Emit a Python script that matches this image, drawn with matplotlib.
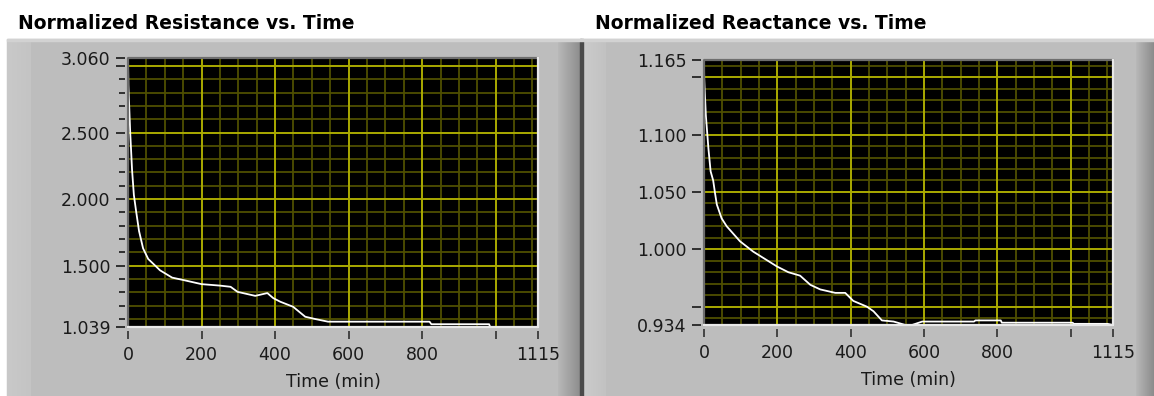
import numpy as np
import matplotlib.pyplot as plt
from matplotlib.patches import Rectangle
from matplotlib.colors import LinearSegmentedColormap

# dados (tempo em minutos)
res_t = [0, 1, 6, 11, 16, 22, 30, 41, 55, 74, 87, 120, 152, 200, 250, 279, 298,
         346, 379, 395, 414, 449, 482, 509, 544, 820, 825, 982, 985, 1115]
res_v = [3.06, 2.86, 2.50, 2.22, 2.03, 1.91, 1.76, 1.63, 1.55, 1.50, 1.465, 1.41,
         1.391, 1.361, 1.35, 1.341, 1.303, 1.273, 1.294, 1.256, 1.229, 1.191,
         1.116, 1.099, 1.079, 1.079, 1.06, 1.06, 1.039, 1.039]

reac_t = [0, 0.5, 5, 12, 18, 25, 30, 35, 48, 62, 98, 134, 199, 230, 262, 290, 317,
          358, 385, 407, 444, 462, 485, 517, 549, 567, 595, 736, 740, 809, 812,
          1005, 1008, 1100, 1115]
reac_v = [1.165, 1.149, 1.117, 1.088, 1.068, 1.060, 1.049, 1.039, 1.027, 1.020,
          1.007, 0.998, 0.985, 0.980, 0.977, 0.969, 0.965, 0.962, 0.962, 0.955,
          0.950, 0.946, 0.938, 0.937, 0.934, 0.934, 0.937, 0.937, 0.938, 0.938,
          0.936, 0.936, 0.935, 0.935, 0.934]

x_ticks = [0, 200, 400, 600, 800, 1000, 1115]
x_labels = ['0', '200', '400', '600', '800', '', '1115']

res_yticks = [1.039, 1.5, 2.0, 2.5, 3.0, 3.06]
res_ylabels = ['1.039', '1.500', '2.000', '2.500', '', '3.060']
reac_yticks = [0.934, 0.95, 1.0, 1.05, 1.1, 1.15, 1.165]
reac_ylabels = ['0.934', '', '1.000', '1.050', '1.100', '', '1.165']

W, H = 1154, 396
fig = plt.figure(figsize=(W / 100, H / 100), dpi=100)
fig.patch.set_facecolor('white')

# fundo em coordenadas de pixel
bg = fig.add_axes([0, 0, 1, 1])
bg.set_xlim(0, W)
bg.set_ylim(H, 0)
bg.axis('off')

def faixa(x0, x1, c0, c1, y0=39, y1=H):
    grad = np.linspace(0, 1, 50)[None, :]
    cm = LinearSegmentedColormap.from_list('g', [c0, c1])
    bg.imshow(grad, extent=[x0, x1, y1, y0], cmap=cm, aspect='auto', zorder=1)

# painel esquerdo
bg.add_patch(Rectangle((7, 39), 574, H - 39, color='#bdbdbd', zorder=0))
faixa(7, 31, '#c9c9c9', '#c4c4c4')
faixa(558, 581, '#b8b8b8', '#8c8c8c')
bg.add_patch(Rectangle((580, 39), 3, H - 39, color='#4a4a4a', zorder=2))
# painel direito
bg.add_patch(Rectangle((583, 39), W - 583, H - 39, color='#bdbdbd', zorder=0))
faixa(583, 606, '#cbcbcb', '#c2c2c2')
faixa(1136, W, '#b8b8b8', '#8c8c8c')
bg.add_patch(Rectangle((7, 39), W - 7, 2, color='#d2d2d2', zorder=3))

bg.text(18, 29, 'Normalized Resistance vs. Time', fontsize=13.5, fontweight='bold',
        va='baseline', ha='left', color='black')
bg.text(595, 29, 'Normalized Reactance vs. Time', fontsize=13.5, fontweight='bold',
        va='baseline', ha='left', color='black')


def grafico(box, t, v, ylim, yticks, ylabels, ymaj, ymin, yminor_ticks):
    x0, y0, x1, y1 = box
    ax = fig.add_axes([x0 / W, 1 - y1 / H, (x1 - x0) / W, (y1 - y0) / H])
    ax.set_facecolor('black')
    ax.set_xlim(0, 1115)
    ax.set_ylim(*ylim)

    # grade
    for g in np.arange(50, 1115, 50):
        if g % 200 != 0:
            ax.axvline(g, color='#4f4f00', lw=1.3, zorder=1)
    for g in ymin:
        ax.axhline(g, color='#4f4f00', lw=1.3, zorder=1)
    for g in [200, 400, 600, 800, 1000]:
        ax.axvline(g, color='#aaaa00', lw=1.4, zorder=2)
    for g in ymaj:
        ax.axhline(g, color='#aaaa00', lw=1.4, zorder=2)

    ax.plot(t, v, color='white', lw=1.3, zorder=3, clip_on=False)

    # moldura
    for s in ax.spines.values():
        s.set_color('none')
    ax.spines['left'].set_position(('outward', 2.2))
    ax.spines['bottom'].set_position(('outward', 3))
    ax.plot([0, 0, 1], [0, 1, 1], transform=ax.transAxes, color='#6e6e6e',
            lw=1.6, clip_on=False, zorder=4)
    ax.plot([0, 1, 1], [0, 0, 1], transform=ax.transAxes, color='#e8e8e8',
            lw=1.6, clip_on=False, zorder=4)

    ax.set_xticks(x_ticks)
    ax.set_xticklabels(x_labels)
    ax.set_yticks(yticks)
    ax.set_yticklabels(ylabels)
    ax.set_yticks(yminor_ticks, minor=True)
    ax.tick_params(axis='x', length=6, width=1.2, color='#303030', pad=5,
                   labelsize=12.5, labelcolor='#1a1a1a')
    ax.tick_params(axis='y', which='major', length=6.5, width=1.4, color='#303030',
                   pad=4, labelsize=12.5, labelcolor='#1a1a1a')
    ax.tick_params(axis='y', which='minor', length=4, width=1.4, color='#303030')
    ax.set_xlabel('Time (min)', fontsize=12.5, color='#1a1a1a', labelpad=6)
    return ax


res_minor = [round(g, 1) for g in np.arange(1.1, 3.0, 0.1) if round(g * 10) % 5 != 0]
grafico((128, 58, 538, 327), res_t, res_v, (1.039, 3.06), res_yticks, res_ylabels,
        [1.5, 2.0, 2.5, 3.0], res_minor, res_minor)

reac_minor = [round(g, 2) for g in np.arange(0.94, 1.165, 0.01) if round(g * 100) % 5 != 0]
grafico((704, 60, 1113, 325), reac_t, reac_v, (0.934, 1.165), reac_yticks, reac_ylabels,
        [0.95, 1.0, 1.05, 1.1, 1.15], reac_minor, [])

fig.savefig('out.png', dpi=100, facecolor='white')
